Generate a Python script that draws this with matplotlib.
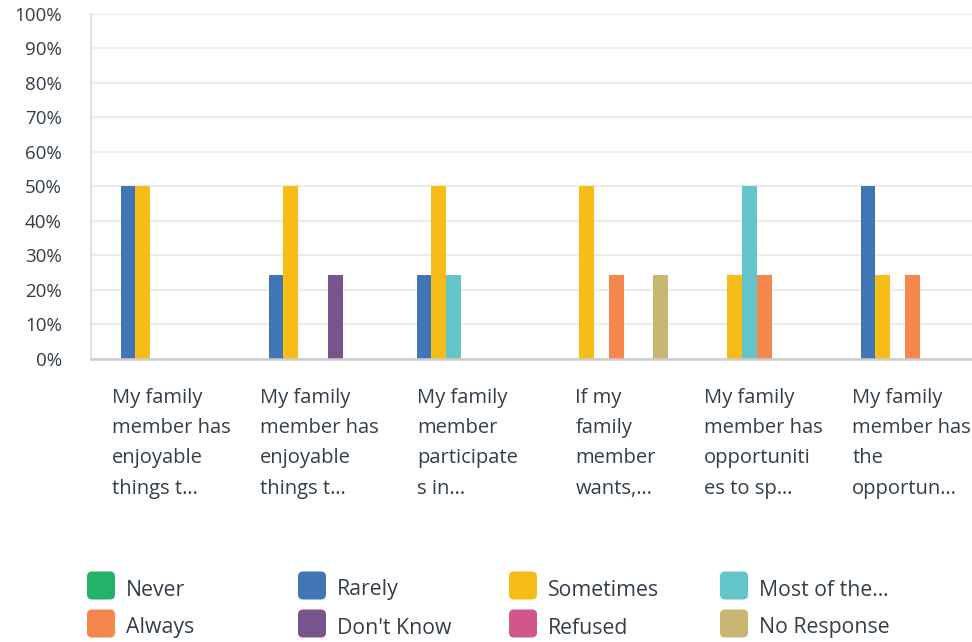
import matplotlib.pyplot as plt
from matplotlib.patches import FancyBboxPatch

plt.rcParams['font.family'] = ['Open Sans', 'DejaVu Sans']

categories = [
    "My family\nmember has\nenjoyable\nthings t…",
    "My family\nmember has\nenjoyable\nthings t…",
    "My family\nmember\nparticipate\ns in…",
    "If my\nfamily\nmember\nwants,…",
    "My family\nmember has\nopportuniti\nes to sp…",
    "My family\nmember has\nthe\nopportun…",
]

series = ["Never", "Rarely", "Sometimes", "Most of the…",
          "Always", "Don't Know", "Refused", "No Response"]
colors = ["#22b26a", "#4176b5", "#f6bc17", "#63c5ca",
          "#f5874c", "#78548c", "#d1568a", "#c6b672"]

never = [0, 0, 0, 0, 0, 0]
rarely = [50, 24.4, 24.4, 0, 0, 50]
sometimes = [50, 50, 50, 50, 24.4, 24.4]
most = [0, 0, 24.4, 0, 50, 0]
always = [0, 0, 0, 24.4, 24.4, 24.4]
dont_know = [0, 24.4, 0, 0, 0, 0]
refused = [0, 0, 0, 0, 0, 0]
no_response = [0, 0, 0, 24.4, 0, 0]
values = [never, rarely, sometimes, most, always, dont_know, refused, no_response]

text_col = "#333e48"

fig = plt.figure(figsize=(9.72, 6.42), dpi=100)
ax = fig.add_axes([91 / 972, 1 - 358.7 / 642, 888 / 972, 345 / 642])

w = 0.1
for j, (name, vals) in enumerate(zip(series, values)):
    xs = [i + (j - 3.5) * w for i in range(len(categories))]
    ax.bar(xs, vals, width=w, color=colors[j], zorder=3, linewidth=0)

ax.set_xlim(-0.5, len(categories) - 0.5)
ax.set_ylim(0, 100)
ax.set_yticks(range(0, 101, 10))
ax.set_yticklabels([f"{v}%" for v in range(0, 101, 10)], fontsize=13.5, color=text_col)
ax.tick_params(axis='y', length=0, pad=21)
ax.set_xticks([])
ax.grid(axis='y', color='#ececec', linewidth=1.5, zorder=0)
for s in ['top', 'right']:
    ax.spines[s].set_visible(False)
ax.spines['left'].set_color('#dcdcdc')
ax.spines['left'].set_linewidth(1.2)
ax.spines['bottom'].set_color('#cccccc')
ax.spines['bottom'].set_linewidth(1.8)
ax.spines['bottom'].set_zorder(4)

for i, lab in enumerate(categories):
    ax.text(i + 0.045, -0.085, lab, transform=ax.get_xaxis_transform(),
            ha='center', va='top', multialignment='left',
            fontsize=14.5, color=text_col, linespacing=1.68)

# legend, 4 columns x 2 rows
col_x = [0.87, 2.98, 5.09, 7.20]
row_y = [0.565, 0.185]
for k, (name, c) in enumerate(zip(series, colors)):
    x0 = col_x[k % 4]
    y0 = row_y[k // 4]
    sq = FancyBboxPatch((x0, y0 - 0.14), 0.28, 0.28,
                        boxstyle="round,pad=0,rounding_size=0.05",
                        transform=fig.dpi_scale_trans, facecolor=c,
                        edgecolor='none')
    fig.patches.append(sq)
    fig.text(x0 + 0.39, y0 - 0.1, name, transform=fig.dpi_scale_trans,
             ha='left', va='baseline', fontsize=15.3, color=text_col)

fig.savefig("out.png", dpi=100)
